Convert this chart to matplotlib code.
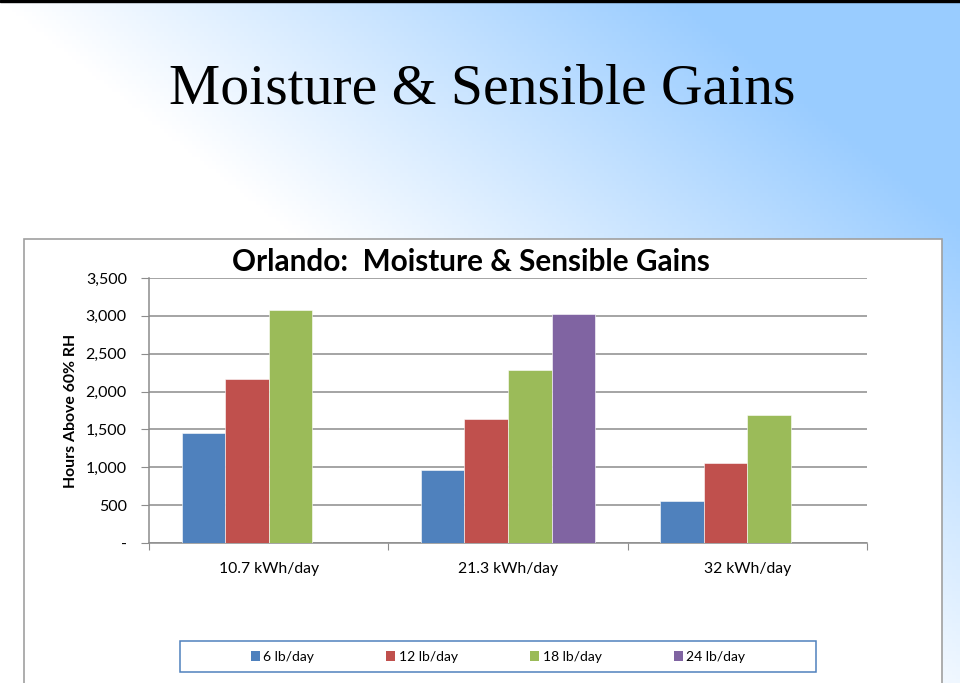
import numpy as np
import matplotlib
matplotlib.use("Agg")
import matplotlib.pyplot as plt
from matplotlib.patches import Rectangle, Patch
from matplotlib.ticker import FuncFormatter

# data
categories = ["10.7 kWh/day", "21.3 kWh/day", "32 kWh/day"]
series_names = ["6 lb/day", "12 lb/day", "18 lb/day", "24 lb/day"]
s6 = [1450, 960, 550]
s12 = [2170, 1640, 1060]
s18 = [3080, 2290, 1690]
s24 = [np.nan, 3030, np.nan]
colors = ["#4F81BD", "#C0504D", "#9BBB59", "#8064A2"]

plt.rcParams['font.family'] = ['Lato', 'DejaVu Sans']

W, H = 960, 683
fig = plt.figure(figsize=(W / 100, H / 100), dpi=100)

# slide background: white bottom-left -> light blue top-right
bg = fig.add_axes([0, 0, 1, 1], zorder=-10)
xx, yy = np.meshgrid(np.linspace(0, 1, 240), np.linspace(0, 1, 170))
t = np.clip(1.4 * xx - 1.25 * yy, 0, 1)
c0 = np.array([1.0, 1.0, 1.0])
c1 = np.array([153, 204, 255]) / 255
img = c0[None, None, :] * (1 - t[..., None]) + c1[None, None, :] * t[..., None]
bg.imshow(img, extent=[0, 1, 0, 1], aspect='auto', origin='upper')
bg.set_xlim(0, 1)
bg.set_ylim(0, 1)
bg.axis('off')
bg.add_patch(Rectangle((0, 1 - 2 / H), 1, 2 / H, color='black'))

fig.text(482 / W, 1 - 103 / H, "Moisture & Sensible Gains", ha='center', va='baseline',
         fontsize=41.5, family='Liberation Serif')

# chart panel
fig.patches.append(Rectangle((24 / W, -0.01), (942 - 24) / W, 0.01 + (683 - 239) / H,
                             transform=fig.transFigure, facecolor='white',
                             edgecolor='#A0A0A0', lw=1.2, zorder=-5))

ax = fig.add_axes([149 / W, (683 - 543) / H, (867 - 149) / W, (543 - 278) / H])
x = np.arange(len(categories))
bw = 0.182
for i, (vals, c) in enumerate(zip([s6, s12, s18, s24], colors)):
    ax.bar(x + (i - 1.5) * bw, vals, width=bw, color=c, edgecolor='white',
           linewidth=0.4, zorder=3, label=series_names[i])

ax.set_xlim(-0.5, 2.5)
ax.set_ylim(0, 3500)
ax.set_yticks(np.arange(0, 3501, 500))
ax.yaxis.set_major_formatter(FuncFormatter(lambda v, p: "-" if v == 0 else f"{int(v):,}"))
ax.grid(axis='y', color='#8C8C8C', lw=1.1, zorder=0)
ax.set_xticks([-0.5, 0.5, 1.5, 2.5])
ax.set_xticklabels([])
ax.set_xticks(x, minor=True)
ax.set_xticklabels(categories, minor=True, fontsize=11.3)
ax.tick_params(axis='x', which='minor', length=0, pad=14)
ax.tick_params(axis='x', which='major', length=5, color='#8C8C8C', direction='out')
ax.tick_params(axis='y', length=6, color='#8C8C8C', labelsize=11.5, pad=10)
for s in ['top', 'right']:
    ax.spines[s].set_visible(False)
for s in ['left', 'bottom']:
    ax.spines[s].set_color('#8C8C8C')
    ax.spines[s].set_linewidth(1.1)
ax.set_ylabel("Hours Above 60% RH", fontsize=11.4, fontweight='bold')
ax.yaxis.set_label_coords(-0.099, 0.5)

fig.text(471 / W, 1 - 271 / H, "Orlando:  Moisture & Sensible Gains", ha='center',
         va='baseline', fontsize=21.4, fontweight='bold')

# legend
handles = [Patch(facecolor=c, edgecolor='none') for c in colors]
fig.legend(handles, series_names, loc='center', bbox_to_anchor=(498 / W, 1 - 657 / H),
           ncol=4, frameon=False, fontsize=10, handlelength=0.65, handleheight=0.65,
           handletextpad=0.25, columnspacing=5.2)
fig.patches.append(Rectangle((180 / W, (683 - 672) / H), (816 - 180) / W, 31 / H,
                             transform=fig.transFigure, facecolor='none',
                             edgecolor='#4F81BD', lw=1.1))

fig.savefig("out.png", dpi=100)
